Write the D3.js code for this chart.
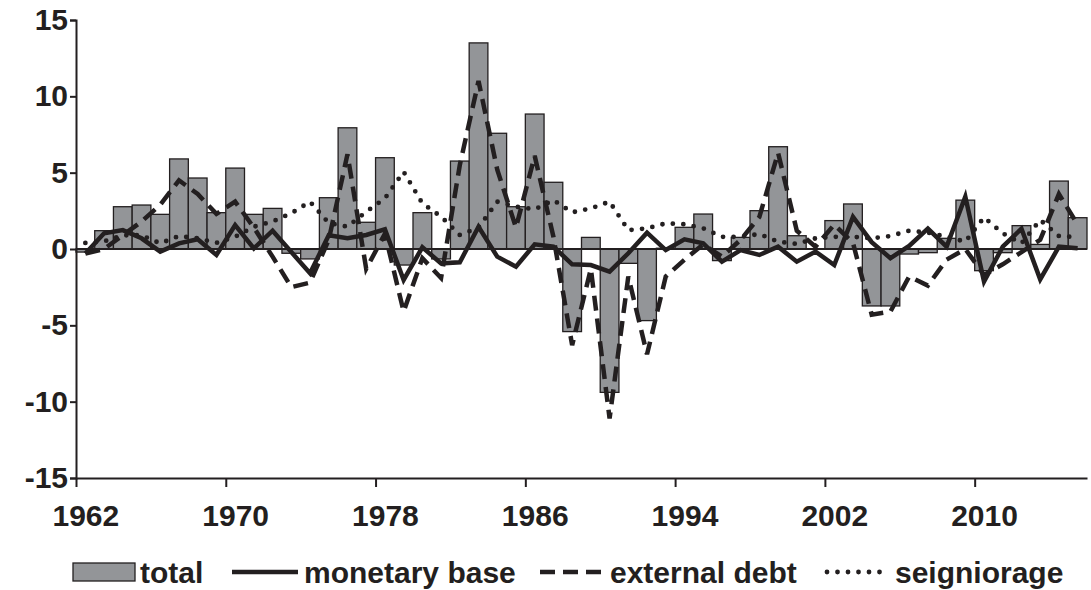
<!DOCTYPE html>
<html>
<head>
<meta charset="utf-8">
<script src="https://cdn.jsdelivr.net/npm/d3@7"></script>
<style>
  html, body { margin: 0; padding: 0; background: #fff; }
  svg { display: block; }
  text { font-family: "Liberation Sans", Arial, sans-serif; font-weight: bold; fill: #231f20; }
</style>
</head>
<body>
<svg id="chart" width="1091" height="590"></svg>
<script>
// Years on the category axis
const years = [
  1962, 1963, 1964, 1965, 1966, 1967, 1968, 1969, 1970, 1971,
  1972, 1973, 1974, 1975, 1976, 1977, 1978, 1979, 1980, 1981,
  1982, 1983, 1984, 1985, 1986, 1987, 1988, 1989, 1990, 1991,
  1992, 1993, 1994, 1995, 1996, 1997, 1998, 1999, 2000, 2001,
  2002, 2003, 2004, 2005, 2006, 2007, 2008, 2009, 2010, 2011,
  2012, 2013, 2014, 2015
];

// Total (bars)
const total = [
  -0.2, 1.2, 2.77, 2.88, 2.27, 5.9, 4.65, 2.38, 5.3, 2.27,
  2.66, -0.28, -0.65, 3.36, 7.94, 1.75, 5.98, -1.05, 2.38, -0.65,
  5.76, 13.5, 7.58, 2.77, 8.84, 4.37, -5.41, 0.76, -9.39, -0.94,
  -4.69, 0.05, 1.42, 2.29, -0.76, 0.76, 2.51, 6.7, 0.87, 0.0,
  1.86, 2.95, -3.73, -3.73, -0.33, -0.24, 0.7, 3.2, -1.42, -0.24,
  1.53, 0.3, 4.45, 2.05
];

// Monetary base (solid line)
const monetaryBase = [
  -0.3, 1.03, 1.24, 0.7, -0.17, 0.37, 0.64, -0.39, 1.57, 0.04,
  1.2, -0.2, -1.59, 0.9, 0.7, 0.92, 1.29, -2.03, 0.11, -0.94,
  -0.87, 1.46, -0.5, -1.16, 0.31, 0.15, -1.0, -1.05, -1.48, -0.28,
  1.07, -0.07, 0.63, 0.37, -0.83, -0.07, -0.39, 0.15, -0.83, -0.17,
  -1.05, 2.1, 0.45, -0.6, 0.2, 1.33, 0.15, 3.43, -2.14, 0.15,
  1.33, -1.99, 0.15, 0.05
];

// External debt (dashed line)
const externalDebt = [
  -0.3, 0.0, 0.9, 1.8, 2.9, 4.5, 3.6, 2.3, 3.1, 1.4,
  -0.5, -2.5, -2.2, 0.6, 6.2, -1.3, 1.0, -4.1, -0.6, -1.9,
  5.5, 11.0, 5.2, 1.4, 6.1, 0.8, -6.3, -1.3, -11.1, -1.8,
  -6.9, -1.8, -0.7, 0.3, -0.5, 0.6, 2.1, 6.3, 1.2, 0.15,
  1.6, 0.4, -4.3, -4.1, -1.8, -2.4, -0.7, 0.0, -1.7, -1.0,
  -0.2, 0.6, 3.6, 1.6
];

// Seigniorage (dotted line)
const seigniorage = [
  0.4, 0.5, 0.9, 0.9, 0.37, 0.85, 0.7, 0.4, 0.8, 1.46,
  1.8, 2.34, 3.1, 1.7, 1.46, 2.44, 3.32, 5.06, 2.99, 2.12,
  0.92, 1.4, 3.1, 2.77, 2.6, 3.2, 2.4, 2.66, 3.1, 1.24,
  1.35, 1.68, 1.62, 1.36, 0.8, 0.8, 0.98, 0.48, 0.33, 0.7,
  0.8, 0.8, 0.7, 0.85, 1.2, 1.07, 0.8, 0.48, 2.07, 1.03,
  0.37, 1.9, 0.85, 0.77
];

// Axis ticks
const yTicks = [-15, -10, -5, 0, 5, 10, 15];
const xTickYears = [1962, 1970, 1978, 1986, 1994, 2002, 2010];

const ink = "#231f20";
const barFill = "#939598";
const fontSize = "30px";

const svg = d3.select("#chart");
const plotLeft = 76, plotRight = 1087, plotTop = 20, plotBottom = 478;

const x = d3.scaleBand().domain(years).range([plotLeft, plotRight]).padding(0);
const bw = x.bandwidth();
const xEdge = d3.scaleLinear().domain([years[0], years[years.length - 1] + 1]).range([plotLeft, plotRight]);
const y = d3.scaleLinear().domain([-15, 15]).range([plotBottom, plotTop]);

// Bars
svg.append("g").selectAll("rect")
  .data(years.map((yr, i) => ({ yr, v: total[i] })))
  .join("rect")
  .attr("x", d => x(d.yr))
  .attr("width", bw)
  .attr("y", d => y(Math.max(0, d.v)))
  .attr("height", d => Math.abs(y(d.v) - y(0)))
  .attr("fill", barFill)
  .attr("stroke", ink)
  .attr("stroke-width", 1.3);

// Zero line
svg.append("line")
  .attr("x1", plotLeft).attr("x2", plotRight)
  .attr("y1", y(0)).attr("y2", y(0))
  .attr("stroke", ink).attr("stroke-width", 2);

// Lines
const line = d3.line()
  .x((d, i) => x(years[i]) + bw / 2)
  .y(d => y(d));

svg.append("path").datum(seigniorage)
  .attr("d", line).attr("fill", "none")
  .attr("stroke", ink).attr("stroke-width", 4.8)
  .attr("stroke-linecap", "round")
  .attr("stroke-dasharray", "0,10.5");

svg.append("path").datum(externalDebt)
  .attr("d", line).attr("fill", "none")
  .attr("stroke", ink).attr("stroke-width", 4.5)
  .attr("stroke-dasharray", "15,8");

svg.append("path").datum(monetaryBase)
  .attr("d", line).attr("fill", "none")
  .attr("stroke", ink).attr("stroke-width", 4.5)
  .attr("stroke-linejoin", "miter");

// Plain hyphen for negative tick labels
const plainNum = d => String(d);

// Y axis
const yAxis = svg.append("g")
  .attr("transform", `translate(${plotLeft},0)`)
  .call(d3.axisLeft(y).tickValues(yTicks).tickSize(6).tickPadding(2).tickFormat(plainNum));
yAxis.select(".domain").attr("stroke", ink).attr("stroke-width", 2);
yAxis.selectAll(".tick line").attr("stroke", ink).attr("stroke-width", 2);
yAxis.selectAll(".tick text")
  .style("font-size", fontSize).attr("fill", ink)
  .attr("font-family", null).attr("font-size", null);

// X axis (ticks on category boundaries, labels centred on categories)
const xAxis = svg.append("g")
  .attr("transform", `translate(0,${plotBottom})`)
  .call(d3.axisBottom(xEdge).tickValues(xTickYears).tickSize(9).tickSizeOuter(0).tickPadding(18).tickFormat(plainNum));
xAxis.select(".domain").attr("stroke", ink).attr("stroke-width", 2);
xAxis.selectAll(".tick line").attr("stroke", ink).attr("stroke-width", 2);
xAxis.selectAll(".tick text")
  .attr("x", bw / 2)
  .style("font-size", fontSize).attr("fill", ink)
  .attr("font-family", null).attr("font-size", null);

// Legend
const legendY = 572;
const lg = svg.append("g");
lg.append("rect").attr("x", 73).attr("y", legendY - 9).attr("width", 62).attr("height", 18)
  .attr("fill", barFill).attr("stroke", ink).attr("stroke-width", 1.3);
lg.append("text").attr("x", 140).attr("y", legendY + 11).style("font-size", fontSize).text("total");

lg.append("line").attr("x1", 232).attr("x2", 298).attr("y1", legendY).attr("y2", legendY)
  .attr("stroke", ink).attr("stroke-width", 4.5);
lg.append("text").attr("x", 304).attr("y", legendY + 11).style("font-size", fontSize).text("monetary base");

lg.append("line").attr("x1", 540).attr("x2", 602).attr("y1", legendY).attr("y2", legendY)
  .attr("stroke", ink).attr("stroke-width", 4.5).attr("stroke-dasharray", "15,8");
lg.append("text").attr("x", 610).attr("y", legendY + 11).style("font-size", fontSize).text("external debt");

lg.append("line").attr("x1", 827).attr("x2", 888).attr("y1", legendY).attr("y2", legendY)
  .attr("stroke", ink).attr("stroke-width", 4.8).attr("stroke-linecap", "round").attr("stroke-dasharray", "0,10.5");
lg.append("text").attr("x", 895).attr("y", legendY + 11).style("font-size", fontSize).text("seigniorage");
</script>
</body>
</html>
